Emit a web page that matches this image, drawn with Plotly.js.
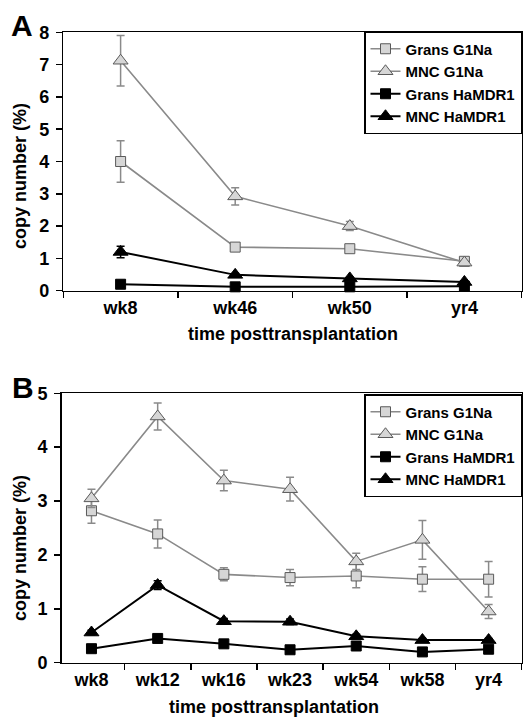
<!DOCTYPE html>
<html>
<head>
<meta charset="utf-8">
<script src="https://cdn.plot.ly/plotly-3.0.1.min.js"></script>
<style>html,body{margin:0;padding:0;background:#fff;}#chart{width:523px;height:717px;}</style>
</head>
<body>
<div id="chart"></div>
<script>
// Panel A data
const catsA = ["wk8", "wk46", "wk50", "yr4"];
const gransG1NaA = [4.0, 1.35, 1.3, 0.91];
const gransG1NaErrA = [0.64, 0.07, 0.08, 0.05];
const mncG1NaA = [7.12, 2.92, 2.0, 0.87];
const mncG1NaErrA = [0.78, 0.27, 0.14, 0.05];
const gransMdrA = [0.2, 0.12, 0.12, 0.14];
const gransMdrErrA = [0.03, 0.02, 0.02, 0.02];
const mncMdrA = [1.2, 0.49, 0.38, 0.27];
const mncMdrErrA = [0.18, 0.04, 0.04, 0.03];

// Panel B data
const catsB = ["wk8", "wk12", "wk16", "wk23", "wk54", "wk58", "yr4"];
const gransG1NaB = [2.82, 2.39, 1.64, 1.58, 1.61, 1.55, 1.55];
const gransG1NaErrB = [0.23, 0.26, 0.12, 0.15, 0.22, 0.23, 0.33];
const mncG1NaB = [3.05, 4.57, 3.38, 3.22, 1.88, 2.28, 0.95];
const mncG1NaErrB = [0.17, 0.25, 0.19, 0.22, 0.15, 0.36, 0.13];
const gransMdrB = [0.26, 0.45, 0.35, 0.24, 0.31, 0.2, 0.25];
const gransMdrErrB = [0.02, 0.03, 0.02, 0.02, 0.02, 0.02, 0.02];
const mncMdrB = [0.56, 1.44, 0.77, 0.76, 0.49, 0.42, 0.42];
const mncMdrErrB = [0.04, 0.08, 0.05, 0.05, 0.04, 0.03, 0.03];

const seriesNames = ["Grans G1Na", "MNC G1Na", "Grans HaMDR1", "MNC HaMDR1"];

const FONT = "Liberation Sans, Arial, sans-serif";
const GRAY_LINE = "#8a8a8a";
const GRAY_FILL = "#d6d6d6";
const GRAY_EDGE = "#5a5a5a";

function styles(i) {
  if (i === 0) return {line: {color: GRAY_LINE, width: 1.6}, marker: {symbol: "square", size: 10, color: GRAY_FILL, line: {color: GRAY_EDGE, width: 1}}, ec: GRAY_LINE};
  if (i === 1) return {line: {color: GRAY_LINE, width: 1.6}, marker: {symbol: "triangle-up", size: 13, color: GRAY_FILL, line: {color: GRAY_EDGE, width: 1}}, ec: GRAY_LINE};
  if (i === 2) return {line: {color: "#000", width: 2}, marker: {symbol: "square", size: 10, color: "#000", line: {color: "#000", width: 1}}, ec: "#000"};
  return {line: {color: "#000", width: 2}, marker: {symbol: "triangle-up", size: 13, color: "#000", line: {color: "#000", width: 1}}, ec: "#000"};
}

function mk(cats, ys, errs, i, xa, ya, leg) {
  const s = styles(i);
  return {
    type: "scatter", mode: "lines+markers", x: cats, y: ys,
    name: seriesNames[i], xaxis: xa, yaxis: ya, legend: leg,
    line: s.line, marker: s.marker, cliponaxis: false,
    error_y: {type: "data", array: errs, visible: true, color: s.ec, thickness: 1.5, width: 4}
  };
}

const data = [
  mk(catsA, gransG1NaA, gransG1NaErrA, 0, "x", "y", "legend"),
  mk(catsA, mncG1NaA, mncG1NaErrA, 1, "x", "y", "legend"),
  mk(catsA, gransMdrA, gransMdrErrA, 2, "x", "y", "legend"),
  mk(catsA, mncMdrA, mncMdrErrA, 3, "x", "y", "legend"),
  mk(catsB, gransG1NaB, gransG1NaErrB, 0, "x2", "y2", "legend2"),
  mk(catsB, mncG1NaB, mncG1NaErrB, 1, "x2", "y2", "legend2"),
  mk(catsB, gransMdrB, gransMdrErrB, 2, "x2", "y2", "legend2"),
  mk(catsB, mncMdrB, mncMdrErrB, 3, "x2", "y2", "legend2")
];

const W = 523, H = 717;
const tickFont = {family: FONT, size: 18, color: "#000", weight: 700};
function xax(dom, anchor, range, cats) {
  return {domain: dom, anchor: anchor, type: "category", categoryorder: "array", categoryarray: cats,
    range: range, showline: true, linecolor: "#000", linewidth: 1.5, mirror: true,
    ticks: "outside", tickson: "boundaries", ticklen: 6, tickwidth: 1.5, tickcolor: "#000",
    showgrid: false, zeroline: false, tickfont: tickFont, fixedrange: true};
}
function yax(dom, anchor, range) {
  return {domain: dom, anchor: anchor, range: range, dtick: 1, showline: true, linecolor: "#000", linewidth: 1.5,
    mirror: true, ticks: "outside", ticklen: 6, tickwidth: 1.5, tickcolor: "#000", ticklabelstandoff: 3,
    showgrid: false, zeroline: false, tickfont: tickFont, fixedrange: true};
}
const titleFont = {family: FONT, size: 18, color: "#000", weight: 700};
const legFont = {family: FONT, size: 15, color: "#000", weight: 700};

const layout = {
  width: W, height: H,
  margin: {l: 0, r: 0, t: 0, b: 0},
  paper_bgcolor: "#fff", plot_bgcolor: "#fff",
  showlegend: true,
  xaxis: xax([63.3 / W, 521.7 / W], "y", [-0.5, 3.5], catsA),
  yaxis: yax([1 - 290.7 / H, 1 - 32.3 / H], "x", [0, 8]),
  xaxis2: xax([61.7 / W, 521.7 / W], "y2", [-0.45, 6.5], catsB),
  yaxis2: yax([1 - 662.7 / H, 1 - 393.3 / H], "x2", [0, 5]),
  legend: {x: 522 / W, y: 1 - 31 / H, xanchor: "right", yanchor: "top", bgcolor: "#fff",
    bordercolor: "#000", borderwidth: 1.5, font: legFont, traceorder: "normal"},
  legend2: {x: 522 / W, y: 1 - 394 / H, xanchor: "right", yanchor: "top", bgcolor: "#fff",
    bordercolor: "#000", borderwidth: 1.5, font: legFont, traceorder: "normal"},
  annotations: [
    {text: "A", x: 22 / W, y: 1 - 25 / H, xref: "paper", yref: "paper", showarrow: false, xanchor: "center", yanchor: "middle", font: {family: FONT, size: 30, color: "#000", weight: 700}},
    {text: "B", x: 23 / W, y: 1 - 387 / H, xref: "paper", yref: "paper", showarrow: false, xanchor: "center", yanchor: "middle", font: {family: FONT, size: 30, color: "#000", weight: 700}},
    {text: "time posttransplantation", x: 292.5 / W, y: 1 - 334 / H, xref: "paper", yref: "paper", showarrow: false, xanchor: "center", yanchor: "middle", font: titleFont},
    {text: "time posttransplantation", x: 274 / W, y: 1 - 707 / H, xref: "paper", yref: "paper", showarrow: false, xanchor: "center", yanchor: "middle", font: titleFont},
    {text: "copy number (%)", x: 20 / W, y: 1 - 176 / H, xref: "paper", yref: "paper", showarrow: false, xanchor: "center", yanchor: "middle", textangle: -90, font: titleFont},
    {text: "copy number (%)", x: 20 / W, y: 1 - 548 / H, xref: "paper", yref: "paper", showarrow: false, xanchor: "center", yanchor: "middle", textangle: -90, font: titleFont}
  ]
};

Plotly.newPlot("chart", data, layout, {displayModeBar: false, staticPlot: true});
</script>
</body>
</html>
